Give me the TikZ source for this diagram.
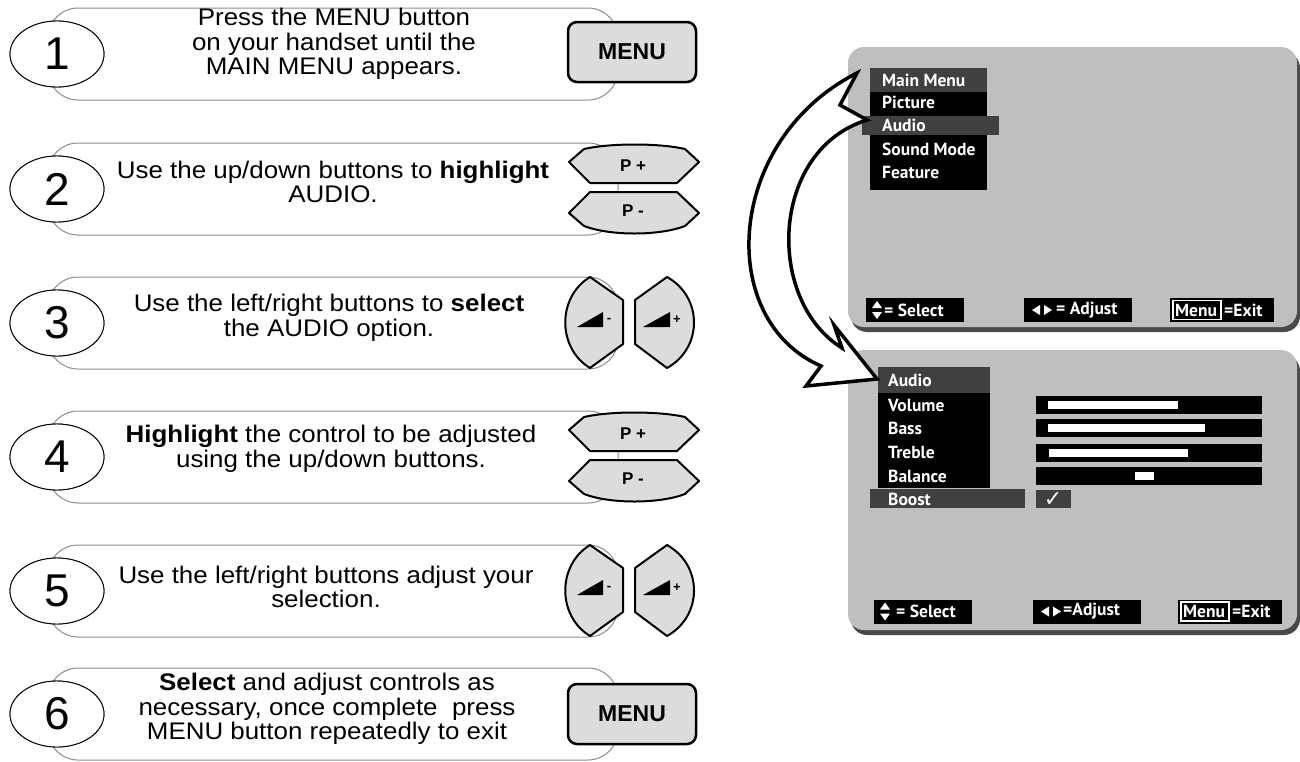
\documentclass[tikz,border=0pt]{standalone}
\usepackage{fontspec}
\setmainfont{Liberation Sans}[FakeStretch=1.08]
\newfontfamily\numfont{Liberation Sans}
\newfontfamily\osdfont{PT Sans}
\newfontfamily\symfont{DejaVu Sans}
\usetikzlibrary{shapes.geometric}
\definecolor{panelgray}{HTML}{BFBFBF}
\definecolor{shadowgray}{HTML}{4A4A4A}
\definecolor{hilite}{HTML}{404040}
\definecolor{btngray}{HTML}{DCDCDC}
\definecolor{framegray}{HTML}{8C8C8C}
\tikzset{
  stepbox/.style={draw=framegray, line width=1pt, rounded corners=30pt},
  numell/.style={ellipse, draw=black, line width=0.9pt, fill=white, minimum width=94pt, minimum height=66pt, inner sep=0pt, font=\numfont\fontsize{46}{46}\selectfont},
  steptext/.style={align=center, font=\fontsize{24}{24.5}\selectfont, inner sep=0pt},
  menubtn/.style={draw=black, line width=2.5pt, fill=btngray, rounded corners=9pt, minimum width=128pt, minimum height=60pt, font=\numfont\fontsize{23}{23}\selectfont\bfseries, inner sep=0pt},
  btnshape/.style={draw=black, line width=2pt, fill=btngray, line join=round},
  btnlabel/.style={font=\numfont\fontsize{17}{17}\selectfont\bfseries, inner sep=0pt},
  pmlabel/.style={font=\numfont\fontsize{13}{13}\selectfont\bfseries, inner sep=0pt},
  osd/.style={font=\osdfont\bfseries\fontsize{17.5}{17.5}\selectfont, text=white, inner sep=0pt, anchor=west},
  bigarrow/.style={draw=black, fill=white, line width=3.5pt, line join=miter},
}
\newcommand{\pbtns}[2]{%
  \draw[btnshape] (569,#1-27) -- (584,#1-40) .. controls (610,#1-46) and (659,#1-46) .. (685,#1-40) -- (699,#1-27) -- (677,#1-6) -- (590,#1-6) -- cycle;
  \draw[btnshape] (590,#1+3) -- (677,#1+3) -- (699,#1+24) -- (685,#1+37) .. controls (659,#1+47) and (610,#1+47) .. (584,#1+37) -- (569,#1+24) -- cycle;
  \node[btnlabel] (#2up) at (633,#1-23) {P +};
  \node[btnlabel] (#2dn) at (633,#1+22) {P -};
}
\newcommand{\volbtns}[2]{%
  \draw[btnshape] (590,#1-46) -- (623,#1-23) -- (623,#1+21) -- (590,#1+45) .. controls (557,#1+25) and (557,#1-26) .. (590,#1-46) -- cycle;
  \draw[btnshape] (667,#1-46) -- (635,#1-23) -- (635,#1+21) -- (667,#1+45) .. controls (703,#1+25) and (703,#1-26) .. (667,#1-46) -- cycle;
  \fill[black] (577,#1+4) -- (603,#1+4) -- (603,#1-11) -- cycle;
  \fill[black] (643,#1+4) -- (670,#1+4) -- (670,#1-11) -- cycle;
  \node[pmlabel] (#2dn) at (609,#1-3) {-};
  \node[pmlabel] (#2up) at (677,#1-3) {+};
}
\newcommand{\stepframe}[2]{%
  \draw[stepbox] (48,#1-46) rectangle (618,#1+46);
  \node[numell] (#2) at (57,#1) {};
}
\newcommand{\legends}[4]{% #1 y center, #2 x of box A, #3 x of box B, #4 x of box C
  \fill[black] (#2,#1-12) rectangle (#2+98,#1+12);
  \fill[white] (#2+6,#1-2) -- (#2+16,#1-2) -- (#2+11,#1-9) -- cycle;
  \fill[white] (#2+6,#1+2) -- (#2+16,#1+2) -- (#2+11,#1+9) -- cycle;
  \fill[black] (#3,#1-12) rectangle (#3+108,#1+12);
  \fill[white] (#3+8,#1) -- (#3+16,#1-5) -- (#3+16,#1+5) -- cycle;
  \fill[white] (#3+28,#1) -- (#3+20,#1-5) -- (#3+20,#1+5) -- cycle;
  \fill[black] (#4,#1-12) rectangle (#4+104,#1+12);
  \draw[white, line width=1.2pt] (#4+3,#1-9.5) rectangle (#4+51,#1+9.5);
}
\begin{document}
\begin{tikzpicture}[x=1pt,y=-1pt]
\useasboundingbox (0,0) rectangle (1300,761);
\fill[white] (0,0) rectangle (1300,761);

% ---------- step 1
\stepframe{54}{n1}
\node[numell] at (n1) {1};
\node[steptext] (t1) at (334,44) {Press the MENU button\\on your handset until the\\MAIN MENU appears.};
\node[menubtn] (menu1) at (632,52) {MENU};

% ---------- step 2
\stepframe{189}{n2}
\node[numell] at (n2) {2};
\node[steptext] (t2) at (333,182) {Use the up/down buttons to \textbf{highlight}\\AUDIO.};
\pbtns{189}{pa}

% ---------- step 3
\stepframe{323}{n3}
\node[numell] at (n3) {3};
\node[steptext] (t3) at (329,318) {Use the left/right buttons to \textbf{select}\\the AUDIO option.};
\volbtns{323}{va}

% ---------- step 4
\stepframe{457}{n4}
\node[numell] at (n4) {4};
\node[steptext] (t4) at (331,449) {\textbf{Highlight} the control to be adjusted\\using the up/down buttons.};
\pbtns{457}{pb}

% ---------- step 5
\stepframe{591}{n5}
\node[numell] at (n5) {5};
\node[steptext] (t5) at (326,587) {Use the left/right buttons adjust your\\selection.};
\volbtns{591}{vb}

% ---------- step 6
\stepframe{714}{n6}
\node[numell] at (n6) {6};
\node[steptext] (t6) at (327,709) {\textbf{Select} and adjust controls as\\necessary, once complete\ \ press\\MENU button repeatedly to exit};
\node[menubtn] (menu6) at (632,714) {MENU};

% ---------- TV panel 1
\fill[shadowgray, rounded corners=16pt] (851,52) rectangle (1300,332);
\fill[panelgray, rounded corners=16pt] (848,47) rectangle (1297,327);
\fill[hilite] (870,68) rectangle (987,92);
\fill[black] (870,92) rectangle (987,190);
\fill[hilite] (862,116) rectangle (999,135);
\node[osd] (m1) at (882,80) {Main Menu};
\node[osd] (m2) at (882,102) {Picture};
\node[osd] (m3) at (882,125.5) {Audio};
\node[osd] (m4) at (882,149) {Sound Mode};
\node[osd] (m5) at (882,172) {Feature};
\legends{310}{866}{1024}{1170}
\node[osd] (l1) at (884,310) {= Select};
\node[osd] (l2) at (1056,310) {= Adjust};
\node[osd] (l3) at (1175,310) {Menu};
\node[osd] (l4) at (1224,310) {=Exit};

% ---------- TV panel 2
\fill[shadowgray, rounded corners=16pt] (851,355) rectangle (1300,635);
\fill[panelgray, rounded corners=16pt] (848,350) rectangle (1297,630);
\fill[hilite] (878,367) rectangle (990,393);
\fill[black] (878,393) rectangle (990,488);
\fill[hilite] (870,489) rectangle (1025,508);
\node[osd] (a1) at (888,380) {Audio};
\node[osd] (a2) at (888,405) {Volume};
\node[osd] (a3) at (888,428) {Bass};
\node[osd] (a4) at (888,452) {Treble};
\node[osd] (a5) at (888,476) {Balance};
\node[osd] (a6) at (888,499) {Boost};
\fill[black] (1036,396) rectangle (1262,414);
\fill[black] (1036,419) rectangle (1262,437);
\fill[black] (1036,444) rectangle (1262,462);
\fill[black] (1036,467) rectangle (1262,485);
\fill[white] (1048,401) rectangle (1178,409);
\fill[white] (1048,424) rectangle (1205,432);
\fill[white] (1049,449) rectangle (1188,457);
\fill[white] (1135,472) rectangle (1154,480);
\fill[hilite] (1036,490) rectangle (1071,508);
\node[text=white, inner sep=0pt, font=\symfont\fontsize{22}{22}\selectfont] (chk) at (1053,500) {✓};
\legends{611.5}{874}{1033}{1178}
\node[osd] (b1) at (896,611.5) {= Select};
\node[osd] (b2) at (1063,611.5) {=Adjust};
\node[osd] (b3) at (1183,611.5) {Menu};
\node[osd] (b4) at (1232,611.5) {=Exit};

% ---------- big curved arrow
\draw[bigarrow] (857,73) -- (840,105) -- (867,120) .. controls (770,150) and (765,300) .. (842,348) -- (834,325) -- (877,379) -- (806,386) -- (821,366) .. controls (715,320) and (725,140) .. (857,73) -- cycle;
\end{tikzpicture}
\end{document}
